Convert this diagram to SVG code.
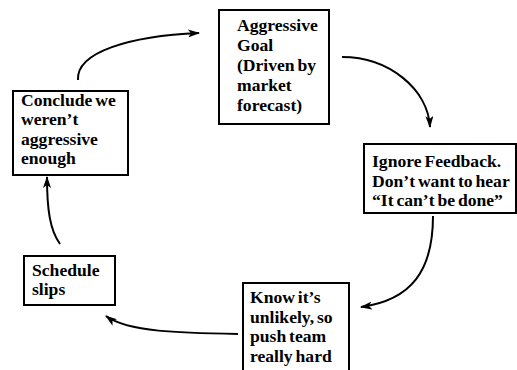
<svg xmlns="http://www.w3.org/2000/svg" width="517" height="370" viewBox="0 0 517 370">
<style>
.box{fill:#fff;stroke:#000;stroke-width:2}
.t{font-family:"Liberation Serif","Times New Roman",serif;font-weight:bold;font-size:17.6px;word-spacing:-1.5px;fill:#000}
.c{fill:none;stroke:#000;stroke-width:2}
</style>
<defs>
<marker id="ah" markerWidth="12" markerHeight="8" refX="11" refY="4" orient="auto" markerUnits="userSpaceOnUse">
<path d="M0,0 L12,4 L0,8 L3,4 z" fill="#000"/>
</marker>
</defs>
<rect width="517" height="370" fill="#fff"/>
<g id="connectors">
<path class="c" d="M78,80 C76,52 130,36 199,33" marker-end="url(#ah)"/>
<path class="c" d="M342,57 C390,57 428,90 430,127" marker-end="url(#ah)"/>
<path class="c" d="M433,216 C433,270 412,300 361,307" marker-end="url(#ah)"/>
<path class="c" d="M238,334 C180,333 128,332 106,316" marker-end="url(#ah)"/>
<path class="c" d="M60,244 C50,230 47,210 47,177" marker-end="url(#ah)"/>
</g>
<g id="goal">
<rect class="box" x="219" y="10" width="110" height="114"/>
<text class="t" x="237" y="31">Aggressive</text>
<text class="t" x="237" y="51">Goal</text>
<text class="t" x="237" y="71">(Driven by</text>
<text class="t" x="237" y="91">market</text>
<text class="t" x="237" y="111">forecast)</text>
</g>
<g id="ignore">
<rect class="box" x="364" y="144" width="152" height="69"/>
<text class="t" x="372" y="167">Ignore Feedback.</text>
<text class="t" x="372" y="187">Don’t want to hear</text>
<text class="t" x="372" y="206">“It can’t be done”</text>
</g>
<g id="know">
<rect class="box" x="243" y="283" width="106" height="95"/>
<text class="t" x="250" y="303">Know it’s</text>
<text class="t" x="250" y="323">unlikely, so</text>
<text class="t" x="250" y="342">push team</text>
<text class="t" x="250" y="362">really hard</text>
</g>
<g id="slips">
<rect class="box" x="24" y="256" width="91" height="49"/>
<text class="t" x="32" y="276">Schedule</text>
<text class="t" x="32" y="295">slips</text>
</g>
<g id="conclude">
<rect class="box" x="13" y="91" width="115" height="84"/>
<text class="t" x="21" y="106">Conclude we</text>
<text class="t" x="21" y="125">weren’t</text>
<text class="t" x="21" y="145">aggressive</text>
<text class="t" x="21" y="164">enough</text>
</g>
</svg>
